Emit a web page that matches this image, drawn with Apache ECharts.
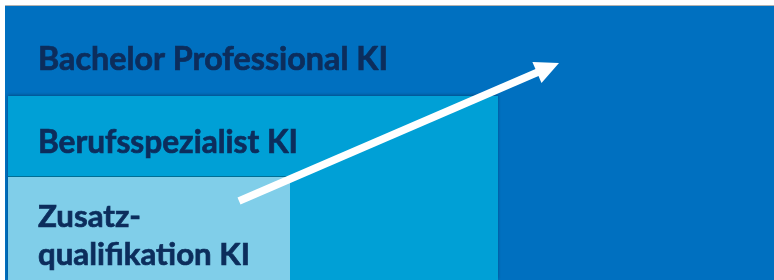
<!DOCTYPE html>
<html>
<head>
<meta charset="utf-8">
<script src="https://cdn.jsdelivr.net/npm/echarts@6/dist/echarts.min.js"></script>
<style>
  html, body { margin: 0; padding: 0; background: #fff; }
  #chart { width: 774px; height: 280px; }
</style>
</head>
<body>
<div id="chart"></div>
<script>
// levels of the qualification ladder, innermost first
const levels = ['Zusatz-\nqualifikation KI', 'Berufsspezialist KI', 'Bachelor Professional KI']
const levelStart = [3, 3, 0]
const levelEnd = [285, 493, 769]
const levelHeight = [103, 184, 274]
const levelColors = ['#80CEE9', '#00A0D6', '#0070C0']
// arrow from / to (x, y)
const arrowFrom = [234, 79]
const arrowTo = [554, 217]

const textColor = '#0C2D5C'
const fontFamily = 'Lato, "Open Sans", sans-serif'
// label layout: left offset from chart edge, baseline offsets from block top, font size, width of widest line
const labelLeft = 33
const labelBaselines = [[51, 89], [58], [65]]
const labelSize = [31, 32, 32]
const labelWidth = [212, 260, 350]

const chart = echarts.init(document.getElementById('chart'))
const measureCtx = document.createElement('canvas').getContext('2d')

function textScale(lines, font, target) {
  measureCtx.font = font
  const w = Math.max(...lines.map((l) => measureCtx.measureText(l).width))
  return target / w
}

function renderLevel(i, api) {
  const tl = api.coord([api.value(0), api.value(2)])
  const br = api.coord([api.value(1), 0])
  const x0 = api.coord([0, 0])[0]
  const font = 'bold ' + labelSize[i] + 'px ' + fontFamily
  const lines = levels[i].split('\n')
  const sx = textScale(lines, font, labelWidth[i])
  const children = [
    {
      type: 'rect',
      shape: { x: tl[0], y: tl[1], width: br[0] - tl[0], height: br[1] - tl[1] },
      style: {
        fill: levelColors[i],
        shadowBlur: i === 1 ? 3 : 0,
        shadowColor: 'rgba(0,0,0,0.3)',
        shadowOffsetY: -1,
      },
    },
  ]
  lines.forEach((line, k) => {
    children.push({
      type: 'text',
      x: x0 + labelLeft,
      y: tl[1] + labelBaselines[i][k] - labelSize[i] * 0.36,
      scaleX: sx,
      style: {
        text: line,
        fill: textColor,
        stroke: textColor,
        lineWidth: 0.7,
        font: font,
        verticalAlign: 'middle',
      },
    })
  })
  return { type: 'group', children }
}

function renderArrow(params, api) {
  const p1 = api.coord([api.value(0), api.value(1)])
  const p2 = api.coord([api.value(2), api.value(3)])
  const dx = p2[0] - p1[0]
  const dy = p2[1] - p1[1]
  const len = Math.sqrt(dx * dx + dy * dy)
  const ux = dx / len
  const uy = dy / len
  const headLen = 24
  const headW = 23
  const bx = p2[0] - ux * headLen
  const by = p2[1] - uy * headLen
  return {
    type: 'group',
    children: [
      {
        type: 'line',
        shape: { x1: p1[0], y1: p1[1], x2: bx + ux * 2, y2: by + uy * 2 },
        style: { stroke: '#fff', lineWidth: 7.5 },
      },
      {
        type: 'polygon',
        shape: {
          points: [
            [p2[0], p2[1]],
            [bx - uy * headW / 2, by + ux * headW / 2],
            [bx + uy * headW / 2, by - ux * headW / 2],
          ],
        },
        style: { fill: '#fff' },
      },
    ],
  }
}

const levelData = levels.map((name, i) => [levelStart[i], levelEnd[i], levelHeight[i]])
// draw outermost first
const order = [2, 1, 0]

chart.setOption({
  animation: false,
  grid: { left: 5, right: 0, top: 6, bottom: 0 },
  xAxis: { type: 'value', min: 0, max: 769, show: false },
  yAxis: { type: 'value', min: 0, max: 274, show: false },
  series: order.map((i) => ({
    type: 'custom',
    renderItem: (params, api) => renderLevel(i, api),
    data: [levelData[i]],
    silent: true,
  })).concat([
    {
      type: 'custom',
      renderItem: renderArrow,
      data: [[arrowFrom[0], arrowFrom[1], arrowTo[0], arrowTo[1]]],
      silent: true,
      z: 10,
    },
  ]),
})
</script>
</body>
</html>
